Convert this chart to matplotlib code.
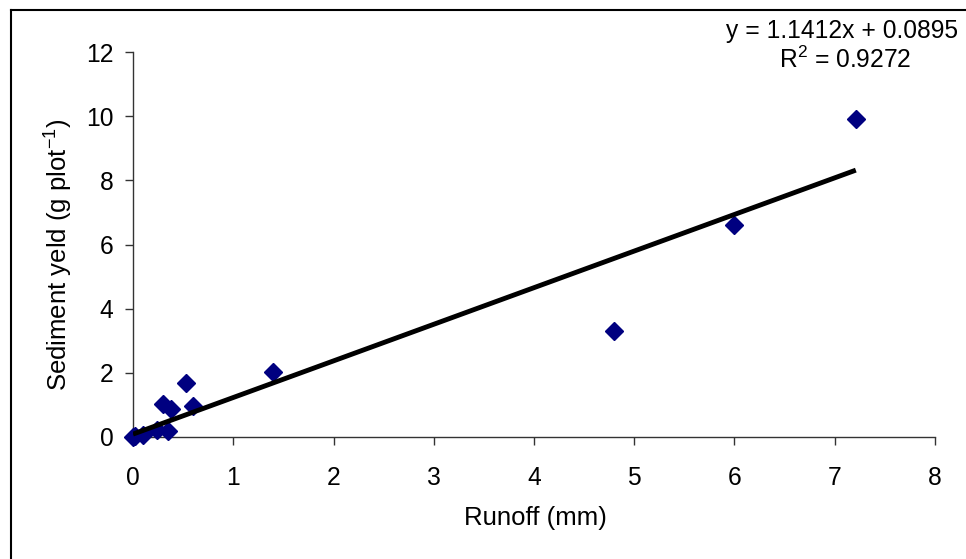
import matplotlib
matplotlib.use("Agg")
import matplotlib.pyplot as plt
from matplotlib.lines import Line2D
import numpy as np

plt.rcParams['font.family'] = ['Liberation Sans', 'DejaVu Sans']
plt.rcParams['mathtext.fontset'] = 'custom'
plt.rcParams['mathtext.rm'] = 'Liberation Sans'
plt.rcParams['mathtext.default'] = 'regular'

runoff = [0.0, 0.02, 0.10, 0.24, 0.35, 0.30, 0.38, 0.53, 0.60, 1.40, 4.80, 6.00, 7.21]
sediment = [0.0, 0.03, 0.06, 0.22, 0.19, 1.03, 0.87, 1.68, 0.97, 2.02, 3.30, 6.60, 9.92]
slope = 1.1412
intercept = 0.0895
eq_text = "y = 1.1412x + 0.0895"
r2_text = "R$^{2}$ = 0.9272"
x_ticks = [0, 1, 2, 3, 4, 5, 6, 7, 8]
y_ticks = [0, 2, 4, 6, 8, 10, 12]

fig = plt.figure(figsize=(9.66, 5.59), dpi=100)
ax = fig.add_axes([133/966, 1-437/559, (935-133)/966, (437-52)/559])

ax.plot(runoff, sediment, linestyle='none', marker='D', markersize=9,
        color='#000080', markeredgecolor='#000080', zorder=3, clip_on=False)
xl = np.array([min(runoff), max(runoff)])
ax.plot(xl, slope*xl + intercept, color='black', lw=3.5, zorder=4,
        solid_capstyle='butt')

ax.set_xlim(0, 8)
ax.set_ylim(0, 12)
ax.set_xticks(x_ticks)
ax.set_yticks(y_ticks)
ax.set_xticklabels([str(t) for t in x_ticks])
ax.set_yticklabels([str(t) for t in y_ticks])
for s in ['top', 'right']:
    ax.spines[s].set_visible(False)
for s in ['left', 'bottom']:
    ax.spines[s].set_color('#333333')
    ax.spines[s].set_linewidth(1.0)
ax.tick_params(axis='both', direction='out', length=5.5, width=1,
               color='#333333', labelsize=17.7)
ax.tick_params(axis='x', pad=15.5)
ax.tick_params(axis='y', pad=8.5)

fig.text(59/966, 1-255/559, "Sediment yeld (g plot$^{-1}$)", rotation=90,
         ha='center', va='center', fontsize=18.5)
fig.text(535/966, 1-518/559, "Runoff (mm)", ha='center', va='center', fontsize=18.5)
fig.text(842/966, 1-31/559, eq_text, ha='center', va='center', fontsize=17.7)
fig.text(845/966, 1-60/559, r2_text, ha='center', va='center', fontsize=17.7)

# outer chart frame (left and top edges visible)
fig.add_artist(Line2D([11/966, 11/966], [0, 1-10/559], color='black', lw=1.5,
                      transform=fig.transFigure))
fig.add_artist(Line2D([11/966, 1], [1-10/559, 1-10/559], color='black', lw=1.5,
                      transform=fig.transFigure))

fig.savefig("out.png", dpi=100)
